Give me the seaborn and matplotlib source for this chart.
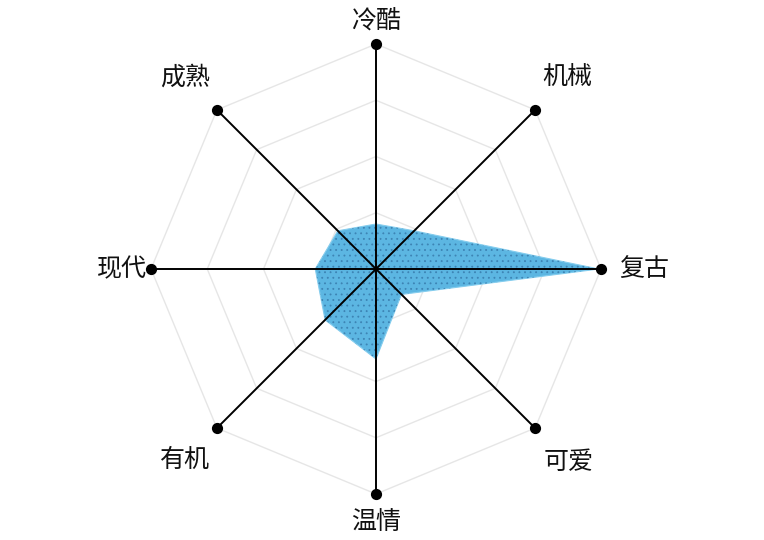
import numpy as np
import pandas as pd
import seaborn as sns
import matplotlib.pyplot as plt

# axes go clockwise from the top
labels = ['冷酷', '机械', '复古', '可爱', '温情', '有机', '现代', '成熟']
scores = [0.20, 0.24, 0.99, 0.16, 0.40, 0.32, 0.27, 0.24]
grid_levels = [0.25, 0.5, 0.75, 1.0]

sns.set_theme(style="white")
plt.rcParams['font.family'] = ['Noto Sans CJK SC', 'DejaVu Sans']
plt.rcParams['hatch.linewidth'] = 0.6

angles = np.deg2rad(90 - 45 * np.arange(len(labels)))
cos_a, sin_a = np.cos(angles), np.sin(angles)

fig = plt.figure(figsize=(7.64, 5.40), dpi=100)
ax = fig.add_axes([0, 0, 1, 1])
# 1 data unit = 225 px, centre of chart at (376, 269) px
ax.set_xlim(-376 / 225, (764 - 376) / 225)
ax.set_ylim(-271 / 225, 269 / 225)
ax.set_aspect('equal')
ax.axis('off')

# octagon grid
for lv in grid_levels:
    xs = np.append(cos_a, cos_a[0]) * lv
    ys = np.append(sin_a, sin_a[0]) * lv
    ax.plot(xs, ys, color='#e6e6e6', lw=1.0, zorder=1)

# data polygon with dotted texture
vals = np.array(scores)
px, py = vals * cos_a, vals * sin_a
ax.fill(px, py, facecolor='#5cb6e2', edgecolor='#85cdee', lw=0.8, zorder=2)
ax.fill(px, py, facecolor='none', edgecolor='#3d84b4', hatch='...', lw=0, zorder=3)

# spokes
for c, s in zip(cos_a, sin_a):
    ax.plot([0, c], [0, s], color='black', lw=1.4, zorder=4)

ends = pd.DataFrame({'x': cos_a, 'y': sin_a, 'label': labels})
sns.scatterplot(data=ends, x='x', y='y', color='black', s=65, edgecolor='black',
                linewidth=0, ax=ax, zorder=5, legend=False)

# label positions (radius, little sideways nudge)
label_r = [1.105, 1.20, 1.19, 1.21, 1.125, 1.20, 1.13, 1.20]
for c, s, lab, r in zip(cos_a, sin_a, labels, label_r):
    ax.text(c * r, s * r, lab, ha='center', va='center', fontsize=18, color='#111111')

fig.savefig('out.png', dpi=100)
